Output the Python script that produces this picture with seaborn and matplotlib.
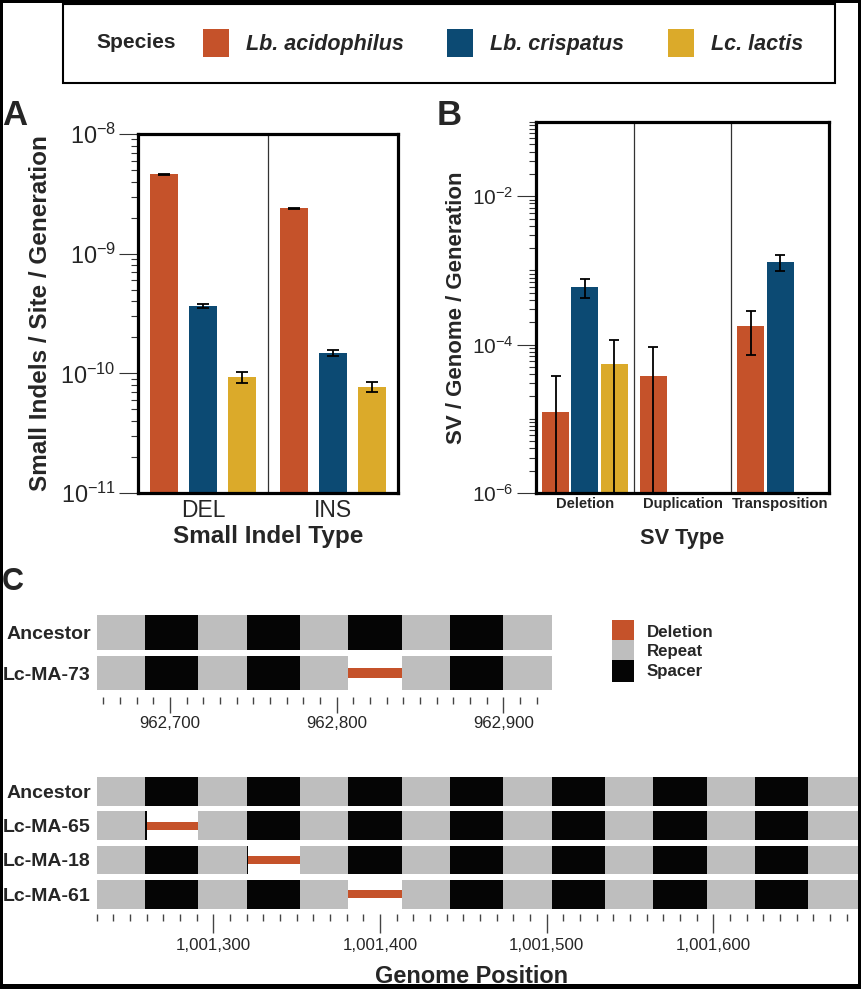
import numpy as np
import pandas as pd
import matplotlib
matplotlib.use("Agg")
import matplotlib.pyplot as plt
import matplotlib.ticker as mticker
from matplotlib.patches import Patch, Rectangle
import seaborn as sns

# ---------------- data ----------------
species = ["Lb. acidophilus", "Lb. crispatus", "Lc. lactis"]
species_colors = ["#C5522A", "#0C4A73", "#DBAA2A"]

indel_types = ["DEL", "INS"]
indel_type_col = ["DEL", "DEL", "DEL", "INS", "INS", "INS"]
indel_species = ["Lb. acidophilus", "Lb. crispatus", "Lc. lactis",
                 "Lb. acidophilus", "Lb. crispatus", "Lc. lactis"]
indel_rate = [4.6e-9, 3.68e-10, 9.3e-11, 2.4e-9, 1.48e-10, 7.7e-11]
indel_err = [0.05e-9, 1.5e-11, 1.0e-11, 0.03e-9, 7.3e-12, 7.7e-12]

sv_types = ["Deletion", "Duplication", "Transposition"]
sv_type_col = ["Deletion", "Deletion", "Deletion", "Duplication",
               "Transposition", "Transposition"]
sv_species = ["Lb. acidophilus", "Lb. crispatus", "Lc. lactis",
              "Lb. acidophilus", "Lb. acidophilus", "Lb. crispatus"]
sv_rate = [1.24e-5, 5.9e-4, 5.4e-5, 3.8e-5, 1.77e-4, 1.29e-3]
sv_err = [2.55e-5, 1.65e-4, 6.2e-5, 5.5e-5, 1.05e-4, 3.2e-4]

track_labels = ["Deletion", "Repeat", "Spacer"]
track_colors = ["#C5522A", "#BEBEBE", "#050505"]

spacer_len = 32
top_rows = ["Ancestor", "Lc-MA-73"]
top_span = (962656, 962929)
top_spacer_starts = [962685, 962746, 962807, 962868]
top_deletions = [("Lc-MA-73", 962807, 962839)]

bottom_rows = ["Ancestor", "Lc-MA-65", "Lc-MA-18", "Lc-MA-61"]
bottom_span = (1001230, 1001689)
bottom_xlim = (1001230, 1001688.6)
bottom_spacer_starts = [1001259, 1001320, 1001381, 1001442, 1001503, 1001564, 1001625]
bottom_deletions = [("Lc-MA-65", 1001260, 1001291),
                    ("Lc-MA-18", 1001321, 1001352),
                    ("Lc-MA-61", 1001381, 1001413)]

# ---------------- style ----------------
sns.set_style("white")
plt.rcParams["font.family"] = ["Liberation Sans", "DejaVu Sans"]
plt.rcParams["mathtext.fontset"] = "custom"
plt.rcParams["mathtext.rm"] = "Liberation Sans"
plt.rcParams["mathtext.it"] = "Liberation Sans:italic"
plt.rcParams["mathtext.bf"] = "Liberation Sans:bold"
plt.rcParams["mathtext.sf"] = "Liberation Sans"

W, H = 861, 989
fig = plt.figure(figsize=(W / 100, H / 100), dpi=100)
fig.patch.set_facecolor("white")


def rect(l, t, r, b):
    return [l / W, 1 - b / H, (r - l) / W, (b - t) / H]


axA = fig.add_axes(rect(138, 134, 398, 493))
axB = fig.add_axes(rect(536, 122, 829, 493))
axT = fig.add_axes(rect(96.7, 612.1, 551.7, 693.5))
axL = fig.add_axes(rect(96.7, 774.5, 861, 911.3))

dfA = pd.DataFrame(dict(type=indel_type_col, species=indel_species,
                        rate=indel_rate, err=indel_err))
dfB = pd.DataFrame(dict(type=sv_type_col, species=sv_species,
                        rate=sv_rate, err=sv_err))

sns.barplot(data=dfA, x="type", y="rate", hue="species", order=indel_types,
            hue_order=species, palette=species_colors, width=0.9, gap=0.26,
            saturation=1, errorbar=None, legend=False, linewidth=0, ax=axA)
sns.barplot(data=dfB, x="type", y="rate", hue="species", order=sv_types,
            hue_order=species, palette=species_colors, width=0.9, gap=0.08,
            saturation=1, errorbar=None, legend=False, linewidth=0, ax=axB)


def add_errorbars(ax, df, capsize):
    logs = np.log(df["rate"].to_numpy())
    for p in list(ax.patches):
        h = p.get_height()
        if not np.isfinite(h) or h <= 0:
            continue
        r = df.iloc[int(np.argmin(np.abs(logs - np.log(h))))]
        lo = min(r.err, r.rate * (1 - 1e-6))
        ax.errorbar(p.get_x() + p.get_width() / 2, r.rate,
                    yerr=[[lo], [r.err]], fmt="none", ecolor="black",
                    elinewidth=1.3, capsize=capsize, capthick=1.3, zorder=5)


for ax in (axA, axB):
    ax.set_yscale("log")

add_errorbars(axA, dfA, 4.3)
add_errorbars(axB, dfB, 3.6)

axA.set_ylim(1e-11, 1e-8)
axA.set_xlim(-0.5, len(indel_types) - 0.5)
axA.yaxis.set_major_locator(mticker.LogLocator(base=10, numticks=20))
axA.yaxis.set_minor_locator(mticker.LogLocator(base=10, subs=np.arange(2, 10), numticks=50))
axA.yaxis.set_minor_formatter(mticker.NullFormatter())

axB.set_ylim(1e-6, 1e-1)
axB.set_xlim(-0.5, len(sv_types) - 0.5)
axB.yaxis.set_major_locator(mticker.FixedLocator([1e-6, 1e-4, 1e-2]))
axB.yaxis.set_major_formatter(mticker.LogFormatterSciNotation())
axB.yaxis.set_minor_locator(mticker.LogLocator(base=10, subs=np.arange(1, 10), numticks=50))
axB.yaxis.set_minor_formatter(mticker.NullFormatter())

for ax, n in ((axA, len(indel_types)), (axB, len(sv_types))):
    for s in ax.spines.values():
        s.set_linewidth(2.3)
        s.set_color("black")
    for k in range(n - 1):
        ax.axvline(k + 0.5, color="#333333", lw=0.9, zorder=1)
    ax.tick_params(axis="x", length=0)
    ax.tick_params(axis="y", which="major", length=14, width=0.8, color="#333333", pad=2, left=True)
    ax.tick_params(axis="y", which="minor", length=5, width=0.8, color="#333333", left=True)

axA.tick_params(axis="y", labelsize=16.8)
axA.tick_params(axis="x", labelsize=16.5, pad=4.5)
axB.tick_params(axis="y", labelsize=15)
axB.tick_params(axis="x", labelsize=10.6, pad=3)
for t in axB.get_xticklabels():
    t.set_fontweight("bold")

axA.set_xlabel("Small Indel Type", fontsize=17.5, fontweight="bold")
axA.xaxis.set_label_coords(0.5, -0.09)
axA.set_ylabel("Small Indels / Site / Generation", fontsize=17.5, fontweight="bold")
axA.yaxis.set_label_coords(-0.331, 0.5)

axB.set_xlabel("SV Type", fontsize=15.7, fontweight="bold")
axB.xaxis.set_label_coords(0.5, -0.095)
axB.set_ylabel("SV / Genome / Generation", fontsize=16, fontweight="bold")
axB.yaxis.set_label_coords(-0.237, 0.5)


# ---------------- panel C ----------------
def draw_track(ax, rows, span, spacer_starts, deletions, xlim, outward, maj_len, lab_pad):
    bh = 0.84
    for i, _ in enumerate(rows):
        ax.barh(i, span[1] - span[0], left=span[0], height=bh,
                color=track_colors[1], linewidth=0)
        ax.barh([i] * len(spacer_starts), [spacer_len] * len(spacer_starts),
                left=spacer_starts, height=bh, color=track_colors[2], linewidth=0)
    for row, ds, de in deletions:
        i = rows.index(row)
        ax.barh(i, de - ds, left=ds, height=bh, color="white", linewidth=0)
        ax.barh(i, de - ds, left=ds, height=0.24, color=track_colors[0], linewidth=0)
    ax.set_xlim(*xlim)
    ax.set_ylim(len(rows) - 0.5, -0.5)
    ax.set_yticks(range(len(rows)))
    ax.set_yticklabels(rows, fontweight="bold", fontsize=14)
    ax.tick_params(axis="y", length=0, pad=4.3, left=False)
    for s in ax.spines.values():
        s.set_visible(False)
    ax.spines["bottom"].set_position(("outward", outward))
    ax.xaxis.set_major_locator(mticker.MultipleLocator(100))
    ax.xaxis.set_minor_locator(mticker.MultipleLocator(10))
    ax.xaxis.set_major_formatter(mticker.StrMethodFormatter("{x:,.0f}"))
    ax.tick_params(axis="x", which="major", bottom=True, length=maj_len, width=1,
                   color="#444444", labelsize=12.2, pad=lab_pad)
    ax.tick_params(axis="x", which="minor", bottom=True, length=5, width=1, color="#444444")
    ax.set_facecolor("none")


draw_track(axT, top_rows, top_span, top_spacer_starts, top_deletions,
           top_span, 2.6, 11.5, 2)
draw_track(axL, bottom_rows, bottom_span, bottom_spacer_starts, bottom_deletions,
           bottom_xlim, 2.0, 13.7, 3.2)
axL.set_xlabel("Genome Position", fontsize=16.9, fontweight="bold")
axL.xaxis.set_label_coords(0.49, -0.395)

# ---------------- legends ----------------
sp_handles = [Patch(facecolor=c, edgecolor="none") for c in species_colors]
fig.legend(sp_handles, species, loc="center left",
           bbox_to_anchor=(203 / W, 1 - 43 / H), ncol=3, frameon=False,
           borderpad=0, borderaxespad=0, handlelength=1.21, handleheight=1.63,
           handletextpad=0.8, columnspacing=2.0,
           prop=dict(size=15.5, weight="bold", style="italic"))
fig.text(96 / W, 1 - 43 / H, "Species", fontsize=15, fontweight="bold",
         va="center", ha="left")
fig.add_artist(Rectangle((63 / W, 1 - 82.7 / H), (834.7 - 63) / W, (82.7 - 4) / H,
                         transform=fig.transFigure, fill=False, lw=1.5, ec="black"))

tr_handles = [Patch(facecolor=c, edgecolor="none") for c in track_colors]
fig.legend(tr_handles, track_labels, loc="upper left",
           bbox_to_anchor=(612.3 / W, 1 - 620 / H), frameon=False,
           borderpad=0, borderaxespad=0, handlelength=1.3, handleheight=1.62,
           handletextpad=0.75, labelspacing=-0.13,
           prop=dict(size=12.2, weight="bold"))

# panel letters
fig.text(2 / W, 1 - 125 / H, "A", fontsize=25, fontweight="bold", va="baseline")
fig.text(437 / W, 1 - 125 / H, "B", fontsize=25, fontweight="bold", va="baseline")
fig.text(2 / W, 1 - 590 / H, "C", fontsize=22, fontweight="bold", va="baseline")

# outer frame
for (l, t, r, b) in [(0, 0, 3, H), (858, 0, W, H), (0, 0, W, 2.5), (0, 984, W, H)]:
    fig.add_artist(Rectangle((l / W, 1 - b / H), (r - l) / W, (b - t) / H,
                             transform=fig.transFigure, color="black", lw=0, zorder=10))

fig.savefig("out.png", dpi=100)
